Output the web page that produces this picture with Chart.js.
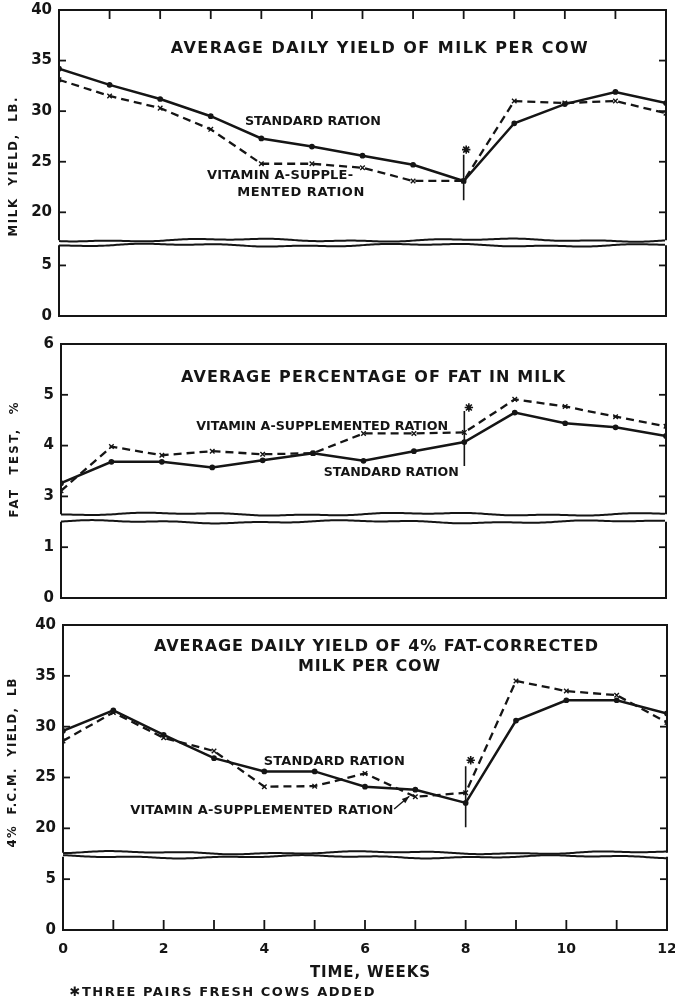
<!DOCTYPE html>
<html>
<head>
<meta charset="utf-8">
<script src="https://cdn.jsdelivr.net/npm/chart.js@4/dist/chart.umd.min.js"></script>
<style>
html,body{margin:0;padding:0;background:#fff;}
#wrap{position:relative;width:675px;height:1004px;overflow:hidden;background:#fff;}
canvas{position:absolute;left:0;}
</style>
</head>
<body>
<div id="wrap">
<canvas id="c1" width="675" height="330" style="top:0px"></canvas>
<canvas id="c2" width="675" height="280" style="top:330px"></canvas>
<canvas id="c3" width="675" height="394" style="top:610px"></canvas>
</div>
<script>
// ---------------- DATA ----------------
const weeks = [0,1,2,3,4,5,6,7,8,9,10,11,12];
const weekLabels = [0,2,4,6,8,10,12];
const weekMinorTicks = [1,2,3,4,5,6,7,8,9,10,11];

// Average daily yield of milk per cow, lb.
const milkStandard = [34.2, 32.6, 31.2, 29.5, 27.3, 26.5, 25.6, 24.7, 23.1, 28.8, 30.7, 31.9, 30.8];
const milkVitaminA = [33.1, 31.5, 30.3, 28.2, 24.8, 24.8, 24.4, 23.1, 23.1, 31.0, 30.8, 31.0, 29.8];
const milkFreshCows = [8.05, 26.2];          // asterisk (week, value)
const milkFreshLine = [21.2, 25.7];          // vertical mark at week 8
const milkUpperTicks = [20, 25, 30, 35, 40];
const milkLowerTicks = [0, 5];

// Average percentage of fat in milk
const fatStandard = [3.26, 3.68, 3.68, 3.57, 3.71, 3.85, 3.70, 3.89, 4.07, 4.65, 4.44, 4.36, 4.19];
const fatVitaminA = [3.11, 3.98, 3.81, 3.89, 3.83, 3.85, 4.24, 4.24, 4.26, 4.91, 4.77, 4.57, 4.38];
const fatFreshCows = [8.09, 4.75];
const fatFreshLine = [3.6, 4.68];
const fatUpperTicks = [3, 4, 5, 6];
const fatLowerTicks = [0, 1];

// Average daily yield of 4% fat-corrected milk per cow, lb.
const fcmStandard = [29.6, 31.6, 29.2, 26.9, 25.6, 25.6, 24.1, 23.8, 22.5, 30.6, 32.6, 32.6, 31.3];
const fcmVitaminA = [28.6, 31.4, 28.9, 27.6, 24.1, 24.15, 25.4, 23.1, 23.5, 34.5, 33.5, 33.1, 30.4];
const fcmFreshCows = [8.1, 26.7];
const fcmFreshLine = [20.1, 26.1];
const fcmUpperTicks = [20, 25, 30, 35, 40];
const fcmLowerTicks = [0, 5];

// ---------------- STYLE ----------------
const FONT = '"DejaVu Sans", sans-serif';
const FONT_NARROW = '"DejaVu Sans Condensed", "DejaVu Sans", sans-serif';
const INK = '#151515';

function pts(ys) { return weeks.map((w, i) => ({x: w, y: ys[i]})); }

function seriesSets(std, vit, fresh, line) {
  return [
    {label: 'Standard ration', data: pts(std), yAxisID: 'yU', borderColor: INK, backgroundColor: INK,
     borderWidth: 2.5, pointRadius: 1.6, pointStyle: 'circle', tension: 0},
    {label: 'Vitamin A-supplemented ration', data: pts(vit), yAxisID: 'yU', borderColor: INK, backgroundColor: INK,
     borderWidth: 2.3, borderDash: [8, 5], pointRadius: 3.2, pointStyle: 'crossRot', pointBorderWidth: 1.4, tension: 0},
    {label: 'Fresh cows added', data: [{x: 8, y: line[0]}, {x: 8, y: line[1]}], yAxisID: 'yU', borderColor: INK,
     borderWidth: 1.6, pointRadius: 0},
    {label: 'Three pairs fresh cows added', data: [{x: fresh[0], y: fresh[1]}], yAxisID: 'yU', showLine: false,
     borderColor: INK, backgroundColor: INK, pointStyle: 'star', pointRadius: 4.2, pointBorderWidth: 1.6}
  ];
}

function drawSpaced(ctx, str, cx, cy, size, width, family) {
  ctx.save();
  ctx.font = 'bold ' + size + 'px ' + (family || FONT);
  ctx.letterSpacing = '0px';
  ctx.textBaseline = 'middle';
  ctx.textAlign = 'left';
  ctx.fillStyle = INK;
  const w0 = ctx.measureText(str).width;
  const n = Array.from(str).length;
  let ls = n > 1 ? (width - w0) / (n - 1) : 0;
  ctx.translate(cx - width / 2, cy);
  if (ls < 0) { ctx.scale(width / w0, 1); ls = 0; }
  ctx.letterSpacing = ls + 'px';
  ctx.fillText(str, 0, 0);
  ctx.restore();
}

function wavy(ctx, x0, x1, y, ph) {
  ctx.beginPath();
  for (let x = x0; x <= x1; x += 2) {
    const t = x - x0;
    const yy = y + 1.1 * Math.sin(t / 41 + ph) + 0.6 * Math.sin(t / 13 + 2.3 * ph);
    if (x === x0) ctx.moveTo(x, yy); else ctx.lineTo(x, yy);
  }
  ctx.stroke();
}

const panelPlugin = {
  id: 'panel',
  afterDatasetsDraw(chart) {
    const cfg = chart.options.plugins.panel;
    const ctx = chart.ctx;
    const a = chart.chartArea, xs = chart.scales.x, yU = chart.scales.yU, yL = chart.scales.yL;
    const L = a.left, R = a.right, T = a.top, B = a.bottom;
    const ub = yU.bottom;
    const lt = yL.getPixelForValue(cfg.lowerBoxTop);
    ctx.save();
    ctx.strokeStyle = INK; ctx.lineWidth = 2; ctx.lineJoin = 'miter';
    ctx.fillStyle = '#fff';
    ctx.fillRect(L - 2, ub + 1, R - L + 4, lt - ub - 2);
    ctx.beginPath(); ctx.moveTo(L, ub); ctx.lineTo(L, T); ctx.lineTo(R, T); ctx.lineTo(R, ub); ctx.stroke();
    wavy(ctx, L, R, ub, cfg.phase);
    ctx.beginPath(); ctx.moveTo(L, lt); ctx.lineTo(L, B); ctx.lineTo(R, B); ctx.lineTo(R, lt); ctx.stroke();
    wavy(ctx, L, R, lt, cfg.phase + 1.7);
    ctx.lineWidth = 1.8;
    const yt = [];
    cfg.upperTicks.forEach(v => { if (v !== yU.max) yt.push(yU.getPixelForValue(v)); });
    cfg.lowerTicks.forEach(v => { if (v !== yL.min) yt.push(yL.getPixelForValue(v)); });
    yt.forEach(p => {
      ctx.beginPath(); ctx.moveTo(L, p); ctx.lineTo(L + 7, p); ctx.stroke();
      ctx.beginPath(); ctx.moveTo(R - 7, p); ctx.lineTo(R, p); ctx.stroke();
    });
    if (cfg.xTickSide) {
      weekMinorTicks.forEach(w => {
        const p = xs.getPixelForValue(w);
        ctx.beginPath();
        if (cfg.xTickSide === 'top') { ctx.moveTo(p, T); ctx.lineTo(p, T + 9); }
        else { ctx.moveTo(p, B); ctx.lineTo(p, B - 10); }
        ctx.stroke();
      });
    }
    if (cfg.arrow) {
      const x0 = xs.getPixelForValue(cfg.arrow[0]), y0 = yU.getPixelForValue(cfg.arrow[1]);
      const x1 = xs.getPixelForValue(cfg.arrow[2]), y1 = yU.getPixelForValue(cfg.arrow[3]);
      const ang = Math.atan2(y1 - y0, x1 - x0);
      ctx.lineWidth = 1.4;
      ctx.beginPath(); ctx.moveTo(x0, y0); ctx.lineTo(x1, y1); ctx.stroke();
      ctx.fillStyle = INK;
      ctx.beginPath();
      ctx.moveTo(x1, y1);
      ctx.lineTo(x1 - 8 * Math.cos(ang - 0.35), y1 - 8 * Math.sin(ang - 0.35));
      ctx.lineTo(x1 - 8 * Math.cos(ang + 0.35), y1 - 8 * Math.sin(ang + 0.35));
      ctx.closePath(); ctx.fill();
    }
    ctx.restore();
    cfg.texts.forEach(t => {
      drawSpaced(ctx, t.t, xs.getPixelForValue(t.x), yU.getPixelForValue(t.y), t.size, t.w);
    });
    ctx.save();
    ctx.translate(cfg.yTitle.x, cfg.yTitle.y);
    ctx.rotate(-Math.PI / 2);
    drawSpaced(ctx, cfg.yTitle.t, 0, 0, cfg.yTitle.size, cfg.yTitle.w, FONT_NARROW);
    ctx.restore();
    (cfg.extra || []).forEach(t => drawSpaced(ctx, t.t, t.x, t.y, t.size, t.w));
  }
};

function noPad(s) { s.paddingLeft = 0; s.paddingRight = 0; s.paddingTop = 0; s.paddingBottom = 0; }

function makePanel(id, p) {
  const tickFont = {family: FONT, size: 15, weight: 'bold'};
  const xTickFont = {family: FONT, size: 14, weight: 'bold'};
  return new Chart(document.getElementById(id), {
    type: 'line',
    data: {datasets: p.datasets},
    plugins: [panelPlugin],
    options: {
      responsive: false, animation: false, devicePixelRatio: 1, events: [],
      layout: {padding: p.padding, autoPadding: false},
      plugins: {
        legend: {display: false}, tooltip: {enabled: false},
        panel: p.panel
      },
      scales: {
        x: {
          type: 'linear', min: 0, max: 12, display: p.showX, offset: false,
          grid: {display: false, drawTicks: false}, border: {display: false},
          ticks: {autoSkip: false, maxRotation: 0, padding: 11, color: INK, font: xTickFont,
                  callback: v => weekLabels.includes(v) ? String(v) : ''},
          afterBuildTicks: s => { s.ticks = weeks.map(v => ({value: v})); },
          afterFit: s => { if (p.showX) s.height = p.xHeight; noPad(s); }
        },
        yU: {
          type: 'linear', position: 'left', stack: 'panel', weight: 2,
          stackWeight: p.upper[1] - p.upper[0], min: p.upper[0], max: p.upper[1],
          grid: {display: false, drawTicks: false}, border: {display: false},
          ticks: {padding: 7, color: INK, font: tickFont},
          afterBuildTicks: s => { s.ticks = p.panel.upperTicks.map(v => ({value: v})); },
          afterFit: s => { s.width = p.left; noPad(s); }
        },
        yL: {
          type: 'linear', position: 'left', stack: 'panel', weight: 1,
          stackWeight: p.lower[1] - p.lower[0], min: p.lower[0], max: p.lower[1],
          grid: {display: false, drawTicks: false}, border: {display: false},
          ticks: {padding: 7, color: INK, font: tickFont},
          afterBuildTicks: s => { s.ticks = p.panel.lowerTicks.map(v => ({value: v})); },
          afterFit: s => { s.width = p.left; noPad(s); }
        }
      }
    }
  });
}

makePanel('c1', {
  datasets: seriesSets(milkStandard, milkVitaminA, milkFreshCows, milkFreshLine),
  padding: {left: 0, right: 9, top: 10, bottom: 14},
  left: 59, showX: false,
  upper: [17.25, 40], lower: [0, 7.5],
  panel: {
    upperTicks: milkUpperTicks, lowerTicks: milkLowerTicks, lowerBoxTop: 7.0, phase: 0.4,
    xTickSide: 'top',
    texts: [
      {t: 'AVERAGE DAILY YIELD OF MILK PER COW', x: 6.33, y: 36.2, size: 16, w: 417},
      {t: 'STANDARD RATION', x: 5.02, y: 29.0, size: 13, w: 136},
      {t: 'VITAMIN A-SUPPLE-', x: 4.37, y: 23.6, size: 13, w: 146},
      {t: 'MENTED RATION', x: 4.78, y: 21.9, size: 13, w: 127}
    ],
    yTitle: {t: 'MILK  YIELD,  LB.', x: 14, y: 167, size: 13, w: 139}
  }
});

makePanel('c2', {
  datasets: seriesSets(fatStandard, fatVitaminA, fatFreshCows, fatFreshLine),
  padding: {left: 0, right: 9, top: 14, bottom: 12},
  left: 61, showX: false,
  upper: [2.65, 6], lower: [0, 1.65],
  panel: {
    upperTicks: fatUpperTicks, lowerTicks: fatLowerTicks, lowerBoxTop: 1.5, phase: 2.1,
    xTickSide: null,
    texts: [
      {t: 'AVERAGE PERCENTAGE OF FAT IN MILK', x: 6.19, y: 5.33, size: 16, w: 384},
      {t: 'VITAMIN A-SUPPLEMENTED RATION', x: 5.18, y: 4.37, size: 13, w: 252},
      {t: 'STANDARD RATION', x: 6.55, y: 3.47, size: 13, w: 135}
    ],
    yTitle: {t: 'FAT  TEST,  %', x: 15, y: 130, size: 13, w: 115}
  }
});

makePanel('c3', {
  datasets: seriesSets(fcmStandard, fcmVitaminA, fcmFreshCows, fcmFreshLine),
  padding: {left: 0, right: 8, top: 15, bottom: 0},
  left: 63, showX: true, xHeight: 74,
  upper: [17.6, 40], lower: [0, 7.6],
  panel: {
    upperTicks: fcmUpperTicks, lowerTicks: fcmLowerTicks, lowerBoxTop: 7.2, phase: 3.3,
    xTickSide: 'bottom',
    arrow: [6.58, 21.9, 6.88, 23.15],
    texts: [
      {t: 'AVERAGE DAILY YIELD OF 4% FAT-CORRECTED', x: 6.22, y: 37.9, size: 16, w: 444},
      {t: 'MILK PER COW', x: 6.08, y: 35.9, size: 16, w: 142},
      {t: 'STANDARD RATION', x: 5.39, y: 26.6, size: 13, w: 141},
      {t: 'VITAMIN A-SUPPLEMENTED RATION', x: 3.95, y: 21.7, size: 13, w: 263}
    ],
    yTitle: {t: '4%  F.C.M.  YIELD,  LB', x: 13, y: 153, size: 13, w: 169},
    extra: [
      {t: 'TIME, WEEKS', x: 370, y: 363, size: 15, w: 120},
      {t: '\u2731THREE PAIRS FRESH COWS ADDED', x: 222, y: 383, size: 13, w: 305}
    ]
  }
});
</script>
</body>
</html>
